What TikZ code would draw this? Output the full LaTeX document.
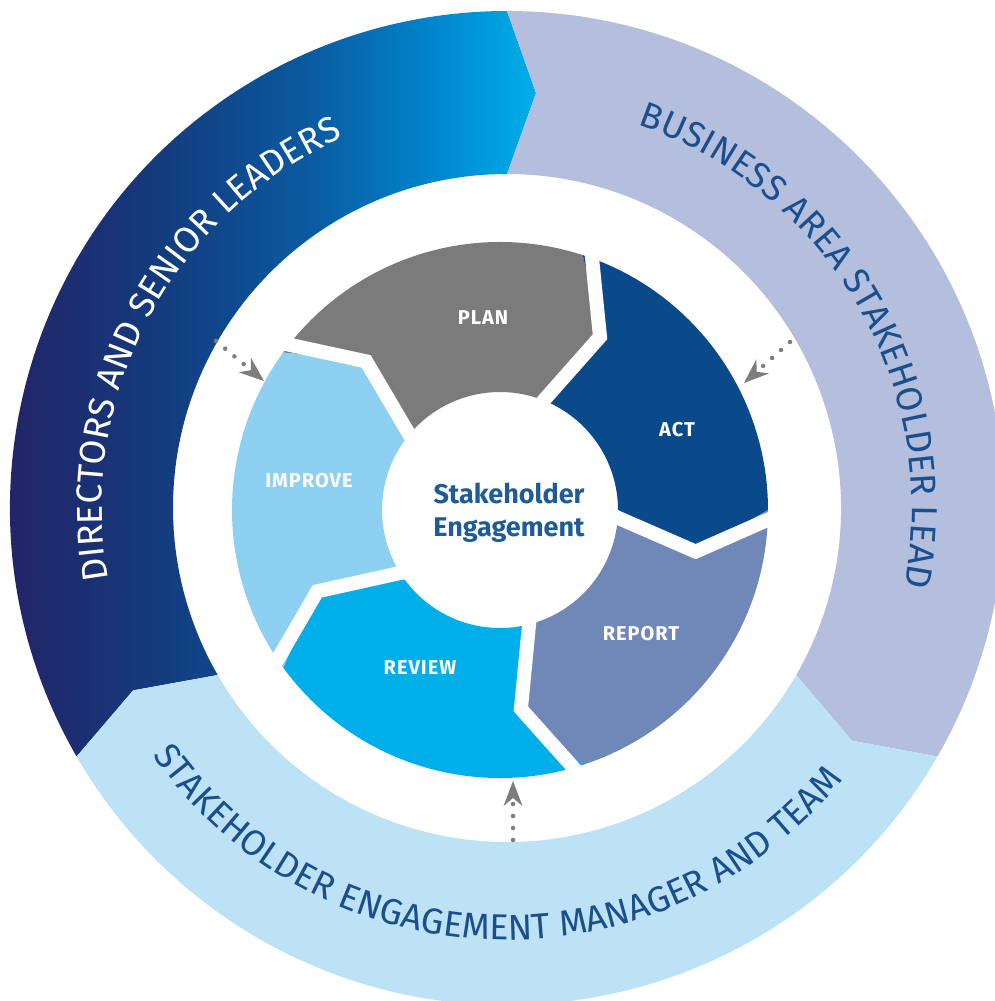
\documentclass[tikz,border=0pt]{standalone}
\usepackage{fontspec}
\setmainfont{Fira Sans}
\usetikzlibrary{decorations.text,arrows.meta}
\definecolor{plangray}{HTML}{7B7B7B}
\definecolor{actblue}{HTML}{0B4A8A}
\definecolor{reportblue}{HTML}{7088B8}
\definecolor{reviewblue}{HTML}{00AEEA}
\definecolor{improveblue}{HTML}{8ED0F2}
\definecolor{busarea}{HTML}{B4BEDD}
\definecolor{mgrblue}{HTML}{BDE2F6}
\definecolor{textblue}{HTML}{1A4F8E}
\definecolor{centerblue}{HTML}{1E5C98}
\definecolor{arrowgray}{HTML}{7D7D7D}
\definecolor{dirA}{HTML}{2A1A5E}
\definecolor{dirB}{HTML}{143A7C}
\definecolor{dirC}{HTML}{0A5AA0}
\definecolor{dirE}{HTML}{0088CF}
\definecolor{dirD}{HTML}{00AEEA}
\pgfdeclarehorizontalshading{dirshade}{100bp}{color(0bp)=(dirA); color(25bp)=(dirA); color(43bp)=(dirB); color(56bp)=(dirC); color(67bp)=(dirE); color(75bp)=(dirD); color(100bp)=(dirD)}
\newcommand{\ringfont}{\fontsize{36}{42}\selectfont}
\newcommand{\cycseg}[2]{%
  \pgfmathsetmacro\segB{#1-72}%
  \pgfmathsetmacro\segAt{#1-12}%
  \pgfmathsetmacro\segBt{#1-84}%
  \fill[#2] (#1:268pt) arc[start angle=#1, end angle=\segB, radius=268pt]
    -- (\segBt:200pt) -- (\segB:118pt)
    arc[start angle=\segB, end angle=#1, radius=118pt]
    -- (\segAt:200pt) -- cycle;}
\tikzset{
  seglabel/.style={text=white, font=\fontsize{20}{20}\selectfont\bfseries\addfontfeatures{LetterSpace=5}},
  gapline/.style={white, line width=14pt, line join=miter},
  dotarrow/.style={arrowgray, line width=4.5pt, line cap=round, dash pattern=on 0pt off 12pt,
    -{Stealth[length=25pt, width=19pt, inset=8pt, line width=0pt]}},
}
\begin{document}
\begin{tikzpicture}[x=1pt,y=1pt]
\useasboundingbox (0,0) rectangle (995,-1001);
\clip (0,0) rectangle (995,-1001);
\fill[white] (0,0) rectangle (995,-1001);

% ---------- outer ring ----------
\begin{scope}[shift={(507,-508)}]
  \shade[shading=dirshade]
    (210:497pt) arc[start angle=210, end angle=90, radius=497pt]
    -- (86:416pt) -- (90:334pt)
    arc[start angle=90, end angle=210, radius=334pt]
    -- (206:416pt) -- cycle;
  \fill[busarea]
    (90:497pt) arc[start angle=90, end angle=-30, radius=497pt]
    -- (-34:416pt) -- (-30:334pt)
    arc[start angle=-30, end angle=90, radius=334pt]
    -- (86:416pt) -- cycle;
  \fill[mgrblue]
    (-30:497pt) arc[start angle=-30, end angle=-150, radius=497pt]
    -- (-154:416pt) -- (-150:334pt)
    arc[start angle=-150, end angle=-30, radius=334pt]
    -- (-34:416pt) -- cycle;

  \path[decorate, decoration={text along path, text align=center, text color=white,
      text={|\ringfont|DIRECTORS AND SENIOR LEADERS}}]
    (212:405pt) arc[start angle=212, end angle=92, radius=405pt];
  \path[decorate, decoration={text along path, text align=center, text color=textblue,
      text={|\ringfont|BUSINESS AREA STAKEHOLDER LEAD}}]
    (82:405pt) arc[start angle=82, end angle=-22, radius=405pt];
  \path[decorate, decoration={text along path, text align=center, text color=textblue,
      text={|\ringfont|STAKEHOLDER ENGAGEMENT MANAGER AND TEAM}}]
    (203:432pt) arc[start angle=203, end angle=333, radius=432pt];
\end{scope}

% ---------- inner cycle ----------
\begin{scope}[shift={(500,-510)}]
  \cycseg{144}{plangray}
  \cycseg{72}{actblue}
  \cycseg{0}{reportblue}
  \cycseg{-72}{reviewblue}
  \cycseg{-144}{improveblue}
  \foreach \t in {144,72,0,-72,-144}{
    \pgfmathsetmacro\tt{\t-12}
    \draw[gapline] (\t:290pt) -- (\tt:200pt) -- (\t:100pt);
  }
\end{scope}

\node[seglabel] (plan) at (483,-318) {PLAN};
\node[seglabel] (act) at (677,-430) {ACT};
\node[seglabel] (report) at (641,-634) {REPORT};
\node[seglabel] (review) at (420,-668) {REVIEW};
\node[seglabel] (improve) at (309,-481) {IMPROVE};
\node[align=center, text=centerblue, font=\fontsize{27}{33}\selectfont\bfseries] (hub) at (509,-513) {Stakeholder\\Engagement};

% ---------- dotted arrows ----------
\coordinate (a1s) at (216,-341);
\coordinate (a1t) at (264,-381);
\coordinate (a2s) at (790,-342);
\coordinate (a2t) at (744,-383);
\coordinate (a3s) at (513,-840);
\coordinate (a3t) at (513,-781);
\draw[dotarrow] (a1s) -- (a1t);
\draw[dotarrow] (a2s) -- (a2t);
\draw[dotarrow] (a3s) -- (a3t);
\end{tikzpicture}
\end{document}
